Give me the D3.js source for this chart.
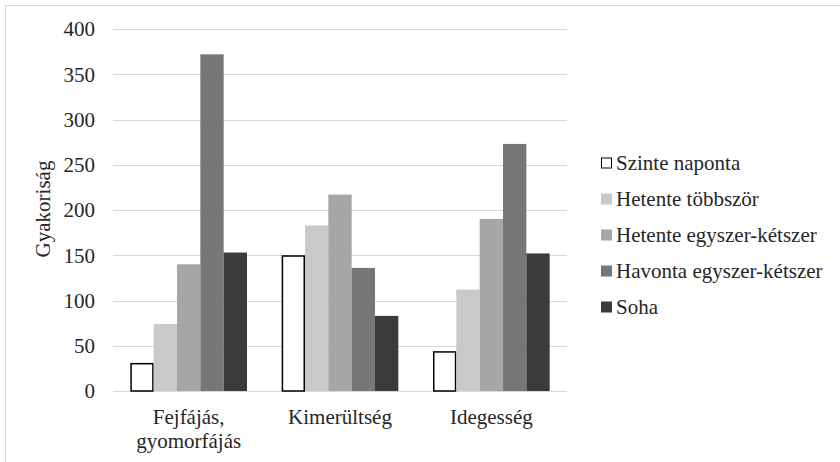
<!DOCTYPE html>
<html><head><meta charset="utf-8">
<script src="https://cdn.jsdelivr.net/npm/d3@7"></script>
<style>body{margin:0;background:#fff}svg{display:block}</style>
</head><body><svg id="c" width="840" height="462"></svg>
<script>
const categories = [["Fejfájás,","gyomorfájás"],["Kimerültség"],["Idegesség"]];
const seriesNames = ["Szinte naponta","Hetente többször","Hetente egyszer-kétszer","Havonta egyszer-kétszer","Soha"];
const seriesColors = ["#ffffff","#c9c9c9","#a6a6a6","#777777","#3b3b3b"];
const szinteNaponta = [31,150,44];
const hetenteTobbszor = [74,183,112];
const hetenteEgyszer = [140,217,190];
const havontaEgyszer = [372,136,273];
const soha = [153,83,152];
const yTicks = [0,50,100,150,200,250,300,350,400];
const yTitle = "Gyakoriság";

const series = [szinteNaponta,hetenteTobbszor,hetenteEgyszer,havontaEgyszer,soha];
const svg = d3.select("#c");
svg.append("rect").attr("x",5.5).attr("y",5.5).attr("width",840).attr("height",470)
  .attr("fill","none").attr("stroke","#d9d9d9");
const L=113,R=567,T=29,B=391;
const catIdx = categories.map((d,i)=>i);
const x0 = d3.scaleBand().domain(catIdx).range([L,R]).paddingInner(0.229).paddingOuter(0.1145);
const x1 = d3.scaleBand().domain(d3.range(series.length)).range([0,x0.bandwidth()]);
const y = d3.scaleLinear().domain([0,400]).range([B,T]);

function txt(sel){ return sel.style("font-family","'Liberation Serif'").style("fill","#262626").style("font-size","21px"); }

const g = svg.append("g");
g.selectAll("line.grid").data(yTicks).join("line").attr("class","grid")
  .attr("x1",L).attr("x2",R).attr("y1",d=>Math.round(y(d))+0.5).attr("y2",d=>Math.round(y(d))+0.5)
  .attr("stroke","#d9d9d9").attr("stroke-width",1);
txt(g.selectAll("text.tick").data(yTicks).join("text").attr("class","tick"))
  .attr("x",95).attr("y",d=>y(d)).attr("dy","0.35em").attr("text-anchor","end")
  .text(d=>d);

series.forEach((s,si)=>{
  g.selectAll("rect.s"+si).data(s).join("rect").attr("class","s"+si)
   .attr("x",(d,i)=>x0(i)+x1(si)+(si===0?0.75:0))
   .attr("width",x1.bandwidth()-(si===0?1.5:0))
   .attr("y",d=>y(d)+(si===0?0.75:0))
   .attr("height",d=>B-y(d)-(si===0?0.75:0))
   .attr("fill",seriesColors[si])
   .attr("stroke",si===0?"#000":"none").attr("stroke-width",si===0?1.5:0);
});

categories.forEach((lines,i)=>{
  const t = txt(g.append("text")).attr("text-anchor","middle")
    .attr("x",x0(i)+x0.bandwidth()/2).attr("y",424);
  lines.forEach((ln,k)=>t.append("tspan").attr("x",x0(i)+x0.bandwidth()/2).attr("dy",k?24:0).text(ln));
});

txt(svg.append("text")).attr("transform","translate(50,209) rotate(-90)").attr("text-anchor","middle")
  .text(yTitle);

const lg = svg.append("g");
seriesNames.forEach((n,i)=>{
  const cy = 163 + i*36;
  lg.append("rect").attr("x",i===0?601.5:601).attr("y",cy-5.5+(i===0?0.5:0)).attr("width",i===0?10:11).attr("height",i===0?10:11)
    .attr("fill",seriesColors[i]).attr("stroke",i===0?"#000":"none").attr("stroke-width",1);
  txt(lg.append("text")).attr("x",616).attr("y",cy).attr("dy","0.35em").text(n);
});
</script></body></html>
